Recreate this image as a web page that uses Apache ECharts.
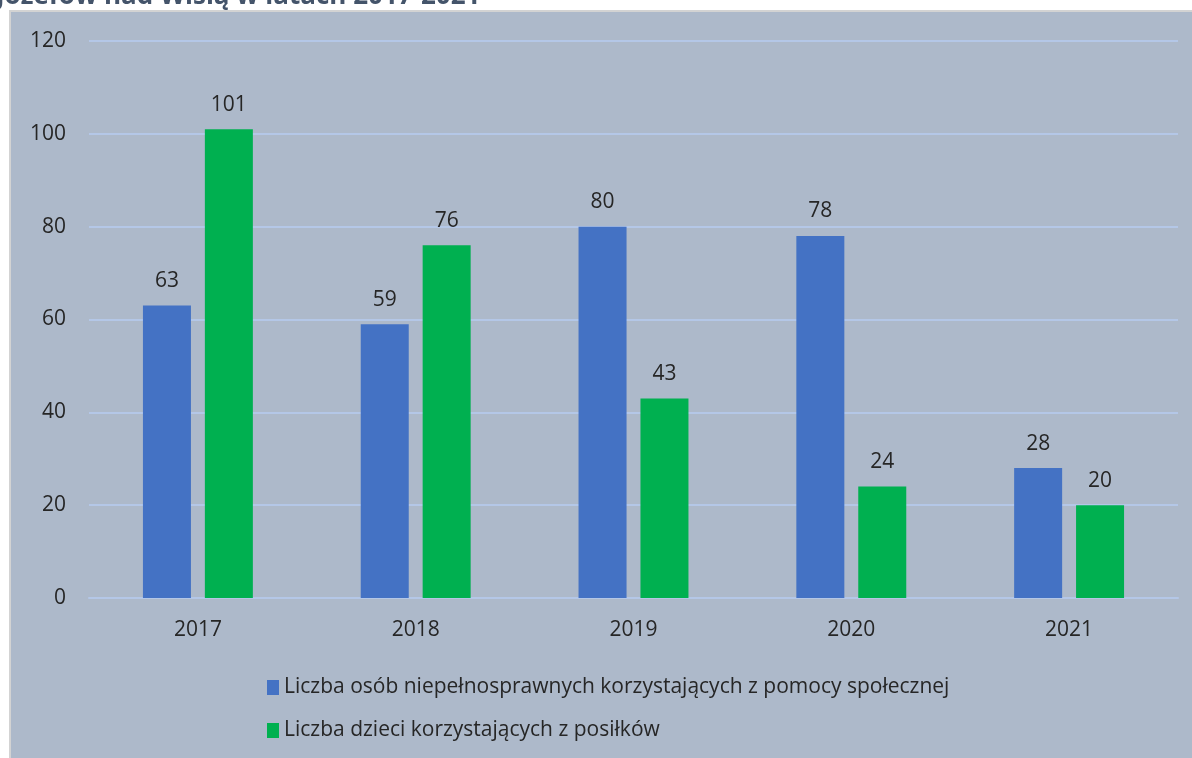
<!DOCTYPE html>
<html><head><meta charset="utf-8">
<script src="https://cdn.jsdelivr.net/npm/echarts@6/dist/echarts.min.js"></script>
<style>html,body{margin:0;padding:0;background:#fff}#c{width:1192px;height:758px}</style>
</head><body><div id="c"></div>
<script>
const years = ['2017','2018','2019','2020','2021'];
const disabled = [63, 59, 80, 78, 28];
const children = [101, 76, 43, 24, 20];
const seriesNames = ['Liczba osób niepełnosprawnych korzystających z pomocy społecznej','Liczba dzieci korzystających z posiłków'];
const titleText = 'Józefów nad Wisłą w latach 2017-2021';
const FONT = '"Open Sans", "Noto Sans", sans-serif';
const chart = echarts.init(document.getElementById('c'));
const lbl = {show:true, position:'top', distance:14, color:'#262626', fontSize:21, fontFamily:FONT};
chart.setOption({
  animation:false,
  graphic:[
    {type:'rect', z:-10, shape:{x:10, y:11, width:1190, height:760}, style:{fill:'#ADB9CA', stroke:'#D3D3D3', lineWidth:2}},
    {type:'text', left:-4, top:-16, style:{text:titleText, fill:'#44546A', font:'bold 26px '+FONT}}
  ],
  grid:{left:89, right:14, top:41, bottom:160},
  legend:{orient:'vertical', left:262, top:672, itemGap:22, itemWidth:12, itemHeight:15, icon:'rect',
    textStyle:{color:'#262626', fontSize:21, fontFamily:FONT}, data:seriesNames},
  xAxis:{type:'category', data:years, axisTick:{show:false},
    axisLine:{lineStyle:{color:'#B4C7E7', width:2}},
    axisLabel:{color:'#262626', fontSize:21, fontFamily:FONT, margin:22}},
  yAxis:{type:'value', min:0, max:120, interval:20,
    axisLine:{show:false}, axisTick:{show:false},
    splitLine:{lineStyle:{color:'#B4C7E7', width:2}},
    axisLabel:{color:'#262626', fontSize:21, fontFamily:FONT, margin:23}},
  series:[
    {name:seriesNames[0], type:'bar', data:disabled, barWidth:48, barGap:'29%', itemStyle:{color:'#4472C4'}, label:lbl},
    {name:seriesNames[1], type:'bar', data:children, barWidth:48, itemStyle:{color:'#00B050'}, label:lbl}
  ]
});
</script></body></html>
